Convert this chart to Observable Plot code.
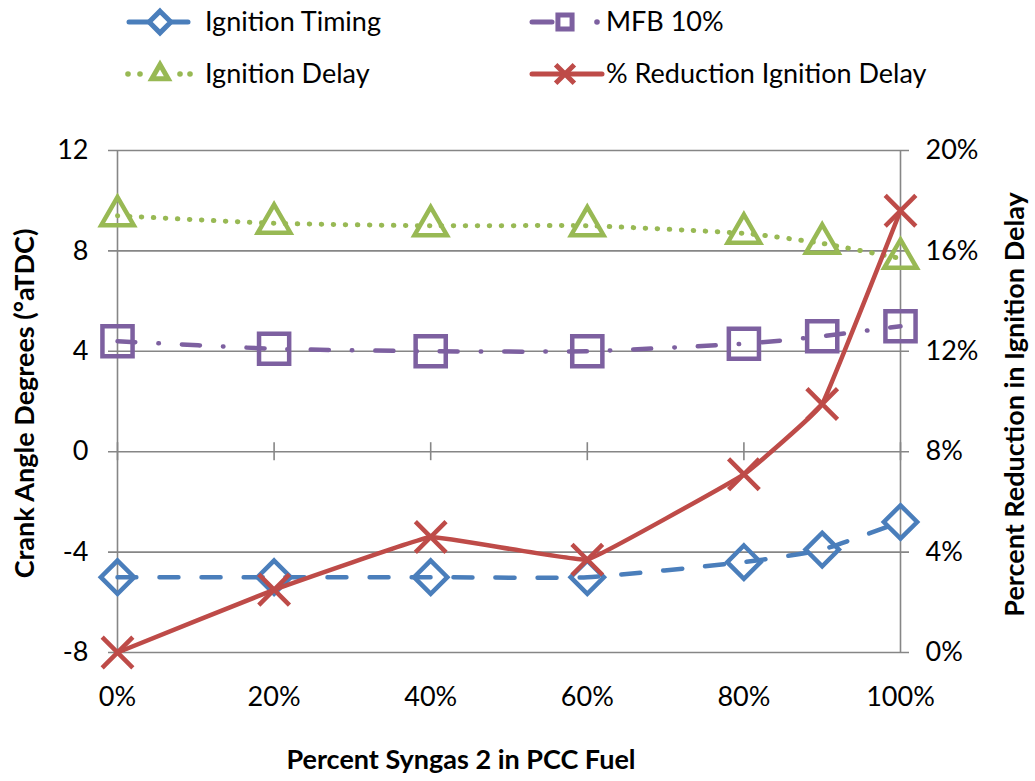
<!DOCTYPE html>
<html>
<head>
<meta charset="utf-8">
<script src="https://cdn.jsdelivr.net/npm/d3@7"></script>
<script src="https://cdn.jsdelivr.net/npm/@observablehq/plot@0.6"></script>
<style>
  html, body { margin: 0; padding: 0; background: #fff; }
  #wrap { position: relative; width: 1035px; height: 781px; overflow: hidden; font-family: Lato, "Open Sans", sans-serif; }
  #legend { position: absolute; left: 0; top: 0; }
  #chart { position: absolute; left: 0; top: 110px; }
</style>
</head>
<body>
<div id="wrap">
  <div id="legend"></div>
  <div id="chart"></div>
</div>
<script>
// ---- data ----
const syngasPct = [0, 20, 40, 60, 80, 90, 100];          // x: percent Syngas 2 in PCC fuel
const ignitionTiming = [-5.0, -5.0, -5.0, -5.0, -4.4, -3.9, -2.8];   // °aTDC
const mfb10 = [4.4, 4.1, 4.0, 4.0, 4.3, 4.6, 5.0];                   // °aTDC
const ignitionDelay = [9.4, 9.1, 9.0, 9.0, 8.7, 8.3, 7.7];            // °aTDC
const reductionDelayPct = [0, 2.5, 4.6, 3.7, 7.1, 9.9, 17.6];         // % (right axis)
const leftTicks = [-8, -4, 0, 4, 8, 12];
const rightTicks = [0, 4, 8, 12, 16, 20];
const xTicks = [0, 20, 40, 60, 80, 100];
const seriesNames = ["Ignition Timing", "MFB 10%", "Ignition Delay", "% Reduction Ignition Delay"];
const titles = {
  left: "Crank Angle Degrees (°aTDC)",
  right: "Percent Reduction in Ignition Delay",
  bottom: "Percent Syngas 2 in PCC Fuel"
};

const colors = { blue: "#4A7EBB", purple: "#7D60A0", green: "#98B954", red: "#BE4B48", grid: "#868686" };

// map right-axis percent onto left-axis scale: 0% -> -8, 20% -> 12
const leftDomain = [-8, 12], rightDomain = [0, 20];
const pctToLeft = p => leftDomain[0] + (p - rightDomain[0]) * (leftDomain[1] - leftDomain[0]) / (rightDomain[1] - rightDomain[0]);
const leftToPct = v => rightDomain[0] + (v - leftDomain[0]) * (rightDomain[1] - rightDomain[0]) / (leftDomain[1] - leftDomain[0]);

const rows = syngasPct.map((x, i) => ({
  x,
  timing: ignitionTiming[i],
  mfb: mfb10[i],
  delay: ignitionDelay[i],
  reduction: pctToLeft(reductionDelayPct[i])
}));

const FONT = "Lato, 'Open Sans', sans-serif";
const FS = 27;
const smooth = { curve: "cardinal", tension: 0.5 };

const chart = Plot.plot({
  width: 1035,
  height: 671,
  marginTop: 40,
  marginBottom: 129,
  marginLeft: 117,
  marginRight: 135,
  x: { domain: [0, 100] },
  y: { domain: leftDomain },
  style: { fontFamily: FONT, fontSize: FS + "px", color: "#000", background: "transparent", overflow: "visible" },
  marks: [
    // horizontal gridlines (extended to form crossing tick marks)
    Plot.ruleY(leftTicks, { stroke: colors.grid, strokeWidth: 1.6, insetLeft: -9, insetRight: -9 }),
    // vertical axis lines
    Plot.ruleX([0, 100], { stroke: colors.grid, strokeWidth: 1.6 }),
    // x-axis tick marks on the y=0 line
    Plot.ruleX(xTicks, { y1: 0, y2: 0, insetTop: -9, insetBottom: -9, stroke: colors.grid, strokeWidth: 1.6 }),
    // axis labels
    Plot.axisY(leftTicks, { anchor: "left", tickSize: 0, tickPadding: 29, label: null, fontSize: FS, tickFormat: d => String(d) }),
    Plot.axisY(rightTicks.map(pctToLeft), { anchor: "right", tickSize: 0, tickPadding: 25, label: null, fontSize: FS,
      tickFormat: d => Math.round(leftToPct(d)) + "%" }),
    Plot.axisX(xTicks, { anchor: "bottom", tickSize: 0, tickPadding: 34, label: null, fontSize: FS, tickFormat: d => d + "%" }),
    // axis titles
    Plot.text([titles.left], { frameAnchor: "left", rotate: -90, dx: -92, dy: 2, textAnchor: "middle", lineAnchor: "middle", fontWeight: "bold", fontSize: 27 }),
    Plot.text([titles.right], { frameAnchor: "right", rotate: -90, dx: 115, dy: 3, textAnchor: "middle", lineAnchor: "middle", fontWeight: "bold", fontSize: 27 }),
    Plot.text([titles.bottom], { frameAnchor: "bottom", dx: -48, dy: 108, textAnchor: "middle", lineAnchor: "middle", fontWeight: "bold", fontSize: 27 }),
    // Ignition Timing
    Plot.line(rows, { x: "x", y: "timing", stroke: colors.blue, strokeWidth: 4.5, strokeDasharray: "19,23", strokeLinecap: "round", ...smooth }),
    Plot.dot(rows, { x: "x", y: "timing", symbol: "diamond2", r: 15, stroke: colors.blue, strokeWidth: 4.5, fill: "none" }),
    // MFB 10%
    Plot.line(rows, { x: "x", y: "mfb", stroke: colors.purple, strokeWidth: 4.5, strokeDasharray: "18,23,0.5,23", strokeLinecap: "round", ...smooth }),
    Plot.dot(rows, { x: "x", y: "mfb", symbol: "square", r: 17, stroke: colors.purple, strokeWidth: 4.5, fill: "none" }),
    // Ignition Delay
    Plot.line(rows, { x: "x", y: "delay", stroke: colors.green, strokeWidth: 5, strokeDasharray: "0.5,11.5", strokeLinecap: "round", ...smooth }),
    Plot.dot(rows, { x: "x", y: "delay", symbol: "triangle2", r: 15.5, stroke: colors.green, strokeWidth: 4.5, fill: "none" }),
    // % Reduction Ignition Delay (right axis)
    Plot.line(rows, { x: "x", y: "reduction", stroke: colors.red, strokeWidth: 4.5, curve: "cardinal", tension: 0.8 }),
    Plot.dot(rows, { x: "x", y: "reduction", symbol: "times", r: 14, stroke: colors.red, strokeWidth: 4.5, fill: "none" })
  ]
});
document.getElementById("chart").appendChild(chart);

// ---- legend (above the chart) ----
const lsvg = d3.select("#legend").append("svg").attr("width", 1035).attr("height", 110)
  .style("font-family", FONT).style("font-size", FS + "px");
const rowY = [22, 74];
function sym(type, size, cx, cy, color, fill) {
  lsvg.append("path").attr("transform", `translate(${cx},${cy})`).attr("d", d3.symbol(type, size)())
    .attr("fill", fill).attr("stroke", color).attr("stroke-width", 5).attr("stroke-linejoin", "miter");
}
function seg(x1, x2, y, color) {
  lsvg.append("line").attr("x1", x1).attr("x2", x2).attr("y1", y).attr("y2", y)
    .attr("stroke", color).attr("stroke-width", 5).attr("stroke-linecap", "round");
}
function dotc(cx, cy, color) {
  lsvg.append("circle").attr("cx", cx).attr("cy", cy).attr("r", 2.8).attr("fill", color);
}
function label(x, y, t) {
  lsvg.append("text").attr("x", x).attr("y", y).attr("dy", "0.35em").attr("fill", "#000").text(t);
}
// Ignition Timing
seg(129, 188, rowY[0], colors.blue);
sym(d3.symbolDiamond2, 300, 160, rowY[0], colors.blue, "white");
label(205, rowY[0], seriesNames[0]);
// MFB 10%
seg(532, 552, rowY[0], colors.purple);
sym(d3.symbolSquare, 200, 565, rowY[0], colors.purple, "white");
dotc(597, rowY[0], colors.purple);
label(606, rowY[0], seriesNames[1]);
// Ignition Delay
[128, 140, 180, 190].forEach(cx => dotc(cx, rowY[1], colors.green));
sym(d3.symbolTriangle2, 190, 160, rowY[1], colors.green, "white");
label(205, rowY[1], seriesNames[2]);
// % Reduction Ignition Delay
seg(532, 602, rowY[1], colors.red);
sym(d3.symbolTimes, 230, 565, rowY[1], colors.red, "none");
label(606, rowY[1], seriesNames[3]);
</script>
</body>
</html>
